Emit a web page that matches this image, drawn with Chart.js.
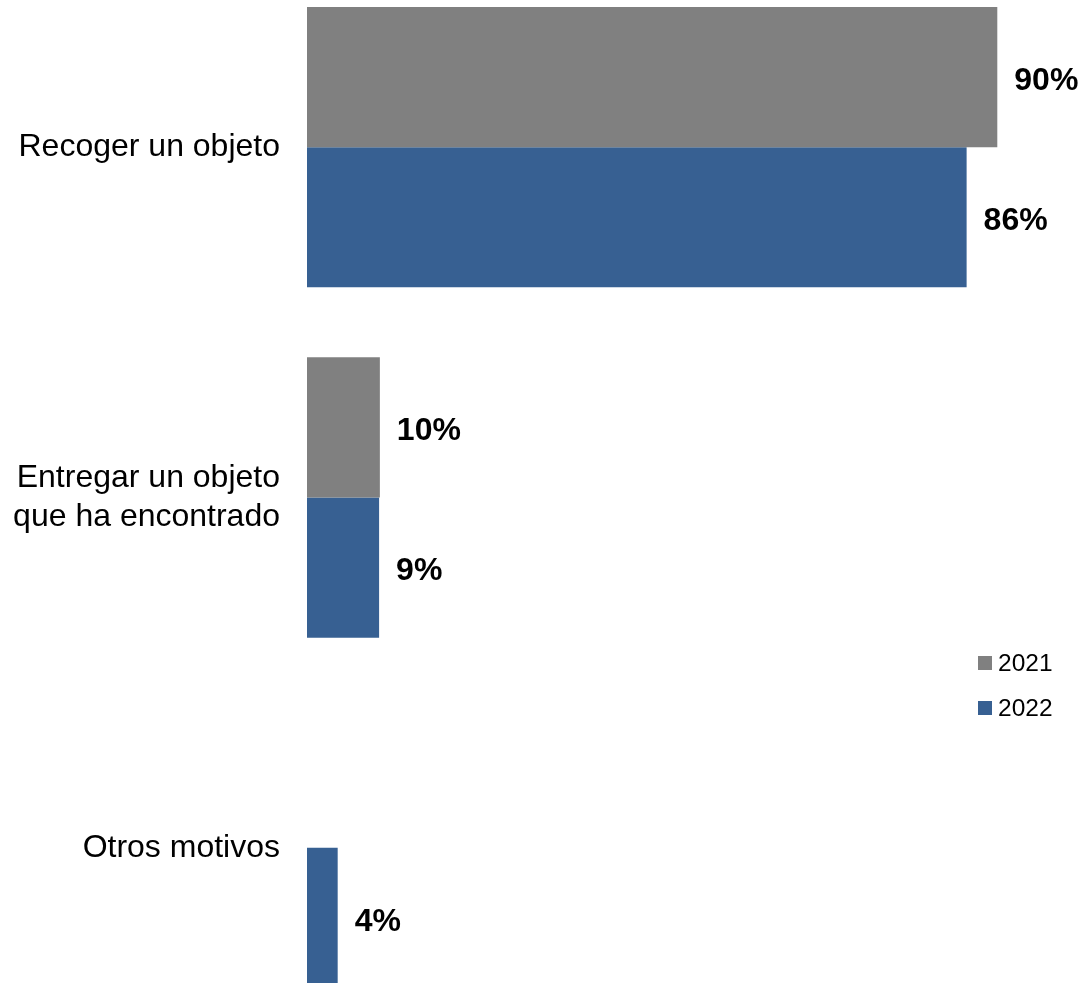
<!DOCTYPE html>
<html>
<head>
<meta charset="utf-8">
<script src="https://cdn.jsdelivr.net/npm/chart.js@4"></script>
<style>
  html, body { margin: 0; padding: 0; background: #fff; overflow: hidden; }
  body { width: 1084px; height: 983px; position: relative; font-family: Arial, "Liberation Sans", sans-serif; }
  #myChart { position: absolute; left: 0; top: -28px; }
  #legend { position: absolute; left: 978px; top: 640px; font-size: 24.5px; color: #000; }
  #legend div { height: 45px; display: flex; align-items: center; }
  #legend span { display: inline-block; width: 14px; height: 14px; margin-right: 6px; }
</style>
</head>
<body>
<canvas id="myChart" width="1084" height="1051"></canvas>
<div id="legend"></div>
<script>
// datos del grafico
const categorias = ['Recoger un objeto', ['Entregar un objeto', 'que ha encontrado'], 'Otros motivos'];
const series = ['2021', '2022'];
const valores2021 = [90, 9.5, null];
const valores2022 = [86, 9.4, 4];
const colores = ['#808080', '#376092'];

// etiquetas de valor al final de cada barra
const etiquetas = {
  id: 'etiquetas',
  afterDatasetsDraw(chart) {
    const ctx = chart.ctx;
    ctx.save();
    ctx.font = 'bold 32px Arial, "Liberation Sans", sans-serif';
    ctx.fillStyle = '#000';
    ctx.textAlign = 'left';
    ctx.textBaseline = 'middle';
    chart.data.datasets.forEach((ds, i) => {
      chart.getDatasetMeta(i).data.forEach((bar, j) => {
        const v = ds.data[j];
        if (v == null) return;
        ctx.fillText(Math.round(v) + '%', bar.x + 17, bar.y + 4);
      });
    });
    ctx.restore();
  }
};

const ctx = document.querySelector('#myChart');

new Chart(ctx, {
  type: 'bar',
  data: {
    labels: categorias,
    datasets: [{
      label: series[0],
      data: valores2021,
      backgroundColor: colores[0],
      borderWidth: 0
    }, {
      label: series[1],
      data: valores2022,
      backgroundColor: colores[1],
      borderWidth: 0
    }]
  },
  options: {
    indexAxis: 'y',
    responsive: false,
    animation: false,
    categoryPercentage: 0.8,
    barPercentage: 1.0,
    layout: { padding: { left: 0, right: 10, top: 0, bottom: 0 } },
    plugins: {
      legend: { display: false },
      tooltip: { enabled: false }
    },
    scales: {
      x: {
        display: false,
        min: 0,
        max: 100
      },
      y: {
        grid: { display: false, drawTicks: false },
        border: { display: false },
        ticks: {
          color: '#000',
          padding: 27,
          font: { family: 'Arial, "Liberation Sans", sans-serif', size: 32, lineHeight: 1.2 }
        },
        afterFit(scale) {
          scale.width = 307;
          scale.paddingTop = 0;
          scale.paddingBottom = 0;
        }
      }
    }
  },
  plugins: [etiquetas]
});

// leyenda en html
document.querySelector('#legend').innerHTML = series.map((s, i) =>
  `<div><span style="background:${colores[i]}"></span>${s}</div>`).join('');
</script>
</body>
</html>
